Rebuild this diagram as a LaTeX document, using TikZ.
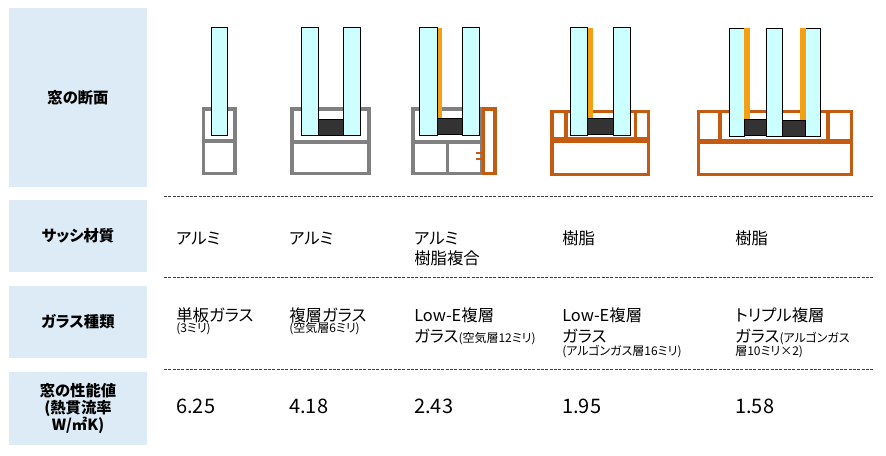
\documentclass[tikz,border=0pt]{standalone}
\usepackage{fontspec}
\setmainfont{Noto Sans CJK JP}[RawFeature=+palt]
\usepackage{tikz}
\usetikzlibrary{arrows,shapes}
\definecolor{headblue}{RGB}{221,235,247}
\definecolor{glasscyan}{RGB}{204,255,255}
\definecolor{filmorange}{RGB}{245,160,20}
\definecolor{spacerdark}{RGB}{51,51,51}
\definecolor{alugray}{RGB}{128,128,128}
\definecolor{resinbrown}{RGB}{197,90,17}
\newcommand\smalltxt{\fontsize{9}{10}\selectfont}
\tikzstyle{headbox}=[fill=headblue,minimum width=103.5pt,inner sep=0pt,font=\bfseries\fontsize{11.5}{12.5}\selectfont,align=center]
\tikzstyle{cell}=[anchor=base west,inner sep=0pt,font=\fontsize{12.3}{15}\selectfont]
\tikzstyle{note}=[cell,font=\smalltxt]
\tikzstyle{uval}=[cell,font=\fontsize{15}{17}\selectfont]
\tikzstyle{rowrule}=[draw=black!75,line width=0.75pt,dash pattern=on 2.25pt off 1pt]
\tikzstyle{glass}=[draw=black,fill=glasscyan,line width=0.75pt]
\tikzstyle{film}=[fill=filmorange]
\tikzstyle{spacer}=[draw=black,fill=spacerdark,line width=0.5pt]
\tikzstyle{alu}=[draw=alugray,line width=2.3pt]
\tikzstyle{resin}=[draw=resinbrown,line width=2.3pt]

\begin{document}
\begin{tikzpicture}[x=0.75pt,y=-0.75pt]
    \useasboundingbox (0,0) rectangle (886,455);
    % First the heading boxes on the left
    \foreach \name/\ypos/\boxh/\txt in {hsec/97.5/134.25pt/窓の断面, hsash/236/54pt/サッシ材質, hglass/322/54pt/ガラス種類}
        \node[headbox,minimum height=\boxh] (\name) at (78,\ypos) {\txt};
    \node[headbox,minimum height=54.75pt] (hperf) at (78,408.5) {窓の性能値\\(熱貫流率\\W/㎡K)};
    % Dashed lines between the rows
    \foreach \ypos in {196.5,277.5,369.5}
        \path[rowrule] (164,\ypos) -- (874,\ypos);

    % Window 1: aluminium, single glass
    \draw[alu] (203.5,109) rectangle (235,173.5);
    \draw[alu,line width=3pt] (203.5,141) -- (235,141);
    \draw[glass] (211,27.5) rectangle (227,135.5);
    % Window 2: aluminium, double glass
    \draw[alu] (292,109) rectangle (369,173.5);
    \draw[alu,line width=3pt] (292,141.5) -- (369,141.5);
    \foreach \xa/\xb in {301/318.5, 343.5/360.5}
        \draw[glass] (\xa,27.5) rectangle (\xb,135.5);
    \draw[spacer] (318.5,119.5) rectangle (343.5,135.5);
    % Window 3: aluminium and resin, Low-E double glass
    \draw[alu] (413,109) rectangle (482,173.5);
    \draw[alu,line width=3pt] (413,141.5) -- (482,141.5);
    \draw[alu] (447.5,141.5) -- (447.5,173.5);
    \draw[resin] (483.5,109) rectangle (495,173.5);
    \foreach \ypos in {152.5,158.5}
        \draw[resinbrown,line width=1.5pt] (476,\ypos) -- (482,\ypos);
    \foreach \xa/\xb in {419.5/437.5, 462.5/479.5}
        \draw[glass] (\xa,27.5) rectangle (\xb,135.5);
    \fill[film] (437.5,27.5) rectangle (441.5,118.5);
    \draw[spacer] (437.5,118.5) rectangle (462.5,134.5);
    % Window 4: resin, Low-E double glass
    \draw[resin] (552,111.3) rectangle (648.7,174.7);
    \draw[resin,line width=4pt] (552,140) -- (648.7,140);
    \foreach \xpos in {566,635.3}
        \draw[resin] (\xpos,111.3) -- (\xpos,140);
    \foreach \xa/\xb in {570.5/587.5, 613.5/630.5}
        \draw[glass] (\xa,27.5) rectangle (\xb,135.5);
    \fill[film] (587.5,27.5) rectangle (592.5,118.5);
    \draw[spacer] (587.5,118.5) rectangle (613.5,134.5);
    % Window 5: resin, triple glass
    \draw[resin] (698.7,111.3) rectangle (851.3,174.7);
    \draw[resin,line width=4pt] (698.7,141.3) -- (851.3,141.3);
    \foreach \xpos in {720,828}
        \draw[resin] (\xpos,111.3) -- (\xpos,141.3);
    \foreach \xa/\xb in {729.3/744.3, 766.3/782.3, 805.7/820.3}
        \draw[glass] (\xa,28.3) rectangle (\xb,136.7);
    \fill[film] (744.3,28.3) rectangle (750,119.3);
    \fill[film] (800,28.3) rectangle (805.7,120.5);
    \draw[spacer] (744.3,119.3) rectangle (766.3,135.7);
    \draw[spacer] (782.3,120.5) rectangle (805.7,136.7);

    % Sash material
    \foreach \pos/\name/\txt in {{(176,244)/sash1/アルミ}, {(289,244)/sash2/アルミ}, {(414,244)/sash3/アルミ}, {(414,264)/sash3b/樹脂複合}, {(562,244)/sash4/樹脂}, {(735,244)/sash5/樹脂}}
        \node[cell] (\name) at \pos {\txt};
    % Glass type
    \foreach \pos/\name/\txt in {{(176,321)/glass1/単板ガラス}, {(289,321)/glass2/複層ガラス}, {(414,321)/glass3/Low-E複層}, {(414,342)/glass3b/ガラス{\smalltxt(空気層12ミリ)}}, {(562,321)/glass4/Low-E複層}, {(562,342)/glass4b/ガラス}, {(735,321)/glass5/トリプル複層}, {(735,342)/glass5b/ガラス{\smalltxt(アルゴンガス}}}
        \node[cell] (\name) at \pos {\txt};
    \foreach \pos/\name/\txt in {{(176,332)/note1/(3ミリ)}, {(289,332)/note2/(空気層6ミリ)}, {(562,355)/note4/(アルゴンガス層16ミリ)}, {(735,355)/note5/層10ミリ×2)}}
        \node[note] (\name) at \pos {\txt};
    % Performance values
    \foreach \pos/\name/\txt in {{(176,413)/uval1/6.25}, {(289,413)/uval2/4.18}, {(414,413)/uval3/2.43}, {(562,413)/uval4/1.95}, {(735,413)/uval5/1.58}}
        \node[uval] (\name) at \pos {\txt};

\end{tikzpicture}
\end{document}
